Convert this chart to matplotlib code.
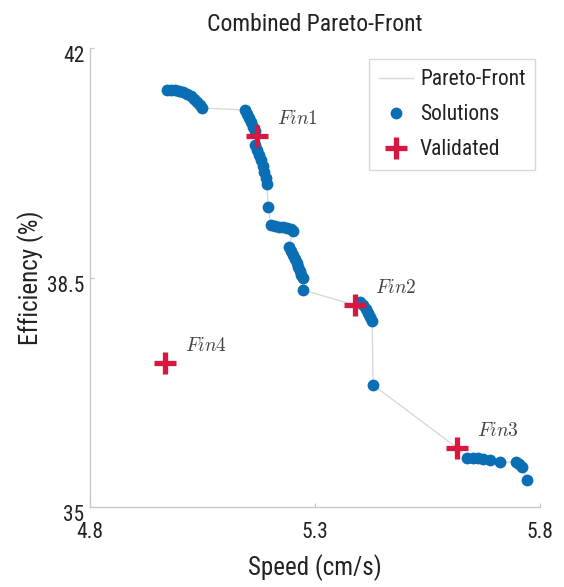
import matplotlib
matplotlib.use("Agg")
import matplotlib.pyplot as plt
import matplotlib.transforms as mtransforms
import numpy as np

# Data
sol_speed = [4.971, 4.980, 4.989, 4.998, 5.007, 5.016, 5.025, 5.031, 5.038, 5.045, 5.049,
             5.145, 5.149, 5.153, 5.158, 5.162, 5.167, 5.167, 5.171, 5.176, 5.180, 5.185, 5.187, 5.191, 5.193,
             5.196,
             5.202, 5.211, 5.220, 5.229, 5.238, 5.247, 5.251,
             5.242, 5.247, 5.251, 5.256, 5.260, 5.262, 5.267, 5.269, 5.273,
             5.273,
             5.400, 5.407, 5.413, 5.418, 5.422, 5.427,
             5.429,
             5.638, 5.651, 5.662, 5.673, 5.689, 5.711, 5.747, 5.753, 5.760, 5.771]
sol_eff = [41.360, 41.360, 41.360, 41.344, 41.329, 41.298, 41.267, 41.222, 41.177, 41.131, 41.085,
           41.055, 40.994, 40.933, 40.871, 40.795, 40.734, 40.521, 40.444, 40.368, 40.292, 40.201, 40.109, 40.018, 39.926,
           39.575,
           39.300, 39.285, 39.269, 39.269, 39.254, 39.239, 39.209,
           38.965, 38.904, 38.843, 38.782, 38.721, 38.660, 38.599, 38.538, 38.492,
           38.309,
           38.126, 38.081, 38.019, 37.958, 37.897, 37.837,
           36.861,
           35.747, 35.747, 35.747, 35.732, 35.717, 35.686, 35.686, 35.655, 35.610, 35.412]

front_speed = [4.971, 4.989, 5.007, 5.025, 5.038, 5.049, 5.145, 5.158, 5.167, 5.171, 5.180, 5.193,
               5.196, 5.202, 5.251, 5.242, 5.273, 5.273, 5.389, 5.400, 5.427, 5.429, 5.616, 5.638,
               5.689, 5.711, 5.747, 5.760, 5.771]
front_eff = [41.360, 41.360, 41.329, 41.267, 41.177, 41.085, 41.055, 40.871, 40.734, 40.653, 40.292, 39.926,
             39.575, 39.300, 39.209, 38.965, 38.492, 38.309, 38.081, 38.126, 37.837, 36.861, 35.900, 35.747,
             35.717, 35.686, 35.686, 35.610, 35.412]

val_names = ["Fin1", "Fin2", "Fin3", "Fin4"]
val_speed = [5.171, 5.389, 5.616, 4.967]
val_eff = [40.653, 38.081, 35.900, 37.196]

xticks = [4.8, 5.3, 5.8]
xticklabels = ['4.8', '5.3', '5.8']
yticks = [35, 38.5, 42]
yticklabels = ['35', '38.5', '42']

plt.rcParams['font.family'] = ['Roboto Condensed', 'Roboto', 'DejaVu Sans']
plt.rcParams['mathtext.fontset'] = 'cm'

fig = plt.figure(figsize=(5.64, 5.87), dpi=100)
ax = fig.add_axes([0.1596, 0.1363, 0.7979, 0.7819])

blue = '#0a6eb4'
red = '#d9163f'
txt = '#222222'

ax.plot(front_speed, front_eff, color='#d9d9d9', lw=1.0, label='Pareto-Front', zorder=1)
ax.plot(sol_speed, sol_eff, 'o', color=blue, ms=8.5, mec='none', label='Solutions', zorder=2)
ax.plot(val_speed, val_eff, '+', color=red, ms=16, mew=3.8, label='Validated', zorder=3)

for n, x, y in zip(val_names, val_speed, val_eff):
    ax.annotate('$' + n + '$', (x, y), xytext=(20, 17), textcoords='offset pixels',
                fontsize=14, color='#444444', ha='left', va='center')

ax.set_xlim(4.8, 5.8)
ax.set_ylim(35, 42)
ax.set_xticks(xticks)
ax.set_xticklabels(xticklabels)
ax.set_yticks(yticks)
ax.set_yticklabels(yticklabels)
for s in ['top', 'right']:
    ax.spines[s].set_visible(False)
for s in ['left', 'bottom']:
    ax.spines[s].set_color('#c8c8c8')
    ax.spines[s].set_linewidth(1.0)
ax.tick_params(direction='in', length=3, color='#c8c8c8', labelsize=15.5, labelcolor=txt)
ax.tick_params(axis='x', pad=11)
ax.tick_params(axis='y', pad=4)
offset = mtransforms.ScaledTranslation(0, -6 / 100, fig.dpi_scale_trans)
for lab in ax.get_yticklabels():
    lab.set_transform(lab.get_transform() + offset)

ax.set_title('Combined Pareto-Front', fontsize=17, color=txt, pad=12)
ax.set_xlabel('Speed (cm/s)', fontsize=18, color=txt, labelpad=8)
ax.set_ylabel('Efficiency (%)', fontsize=18, color=txt, labelpad=2)

leg = ax.legend(loc='upper right', fontsize=15.5, frameon=True, fancybox=False,
                edgecolor='#d0d0d0', labelspacing=0.65, handlelength=1.6, handletextpad=0.3,
                borderaxespad=0.0, borderpad=0.45, labelcolor=txt,
                bbox_to_anchor=(0.989, 0.975))
leg.get_frame().set_linewidth(1.0)

fig.savefig('out.png', dpi=100)
